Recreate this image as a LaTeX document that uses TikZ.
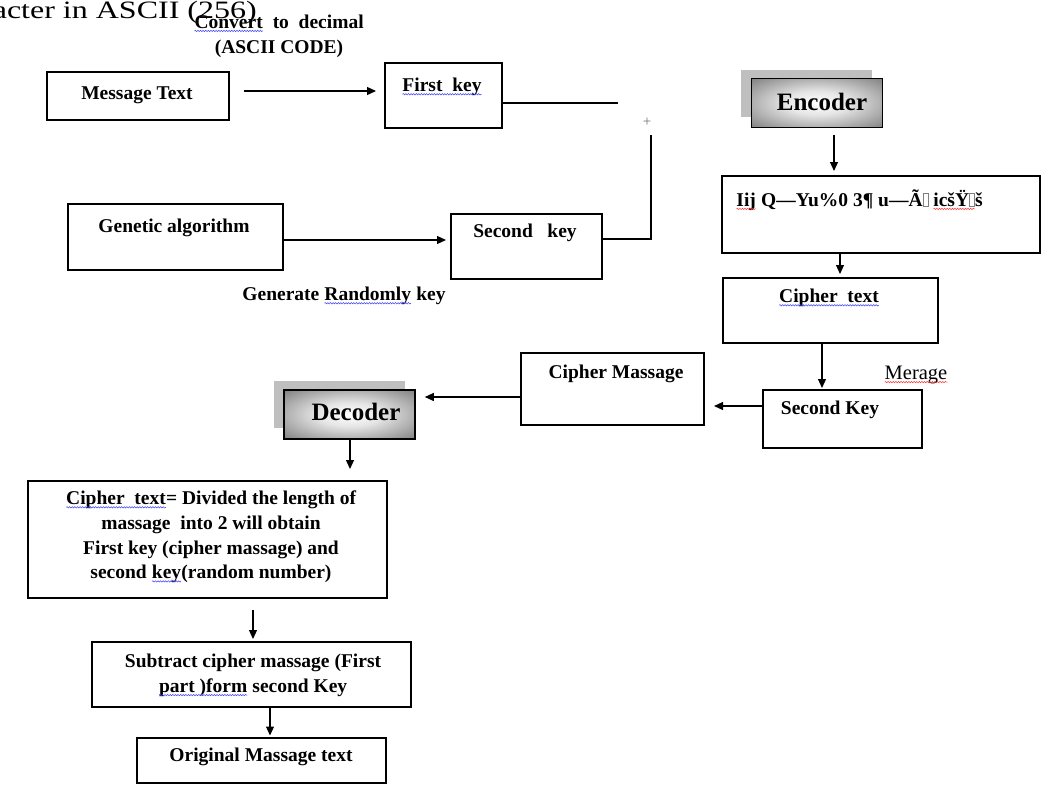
\documentclass[tikz,border=0pt]{standalone}
\usepackage{fontspec}
\setmainfont{Liberation Serif}
\usetikzlibrary{arrows.meta,calc,decorations.pathmorphing}
\colorlet{shdark}{black!74}
\colorlet{shmid}{white!90!black}
\pgfdeclareradialshading{encsh}{\pgfpoint{0bp}{0bp}}{color(0bp)=(white);color(12bp)=(shmid);color(50bp)=(shdark)}
\newcommand\sqline[2]{\tikz[baseline=(W.base)]{\node[inner sep=0pt,outer sep=0pt,anchor=base](W) at (0pt,0pt){#2};\draw[#1,line width=0.5pt,decorate,decoration={snake,amplitude=0.7pt,segment length=2.6pt}]([yshift=-2.6pt]W.base west)--([yshift=-2.6pt]W.base east);}}
\newcommand\sqb[1]{\sqline{blue!75}{#1}}
\newcommand\sqr[1]{\sqline{red!80}{#1}}
\newcommand\nobox{{\color{gray}\setlength\fboxsep{0pt}\setlength\fboxrule{0.6pt}\fbox{\rule{0pt}{13pt}\hspace{4.5pt}}}}
\begin{document}
\begin{tikzpicture}[x=1pt,y=-1pt,
  box/.style n args={2}{draw,line width=2pt,inner sep=0pt,minimum width=#1,minimum height=#2},
  lbl/.style={font=\bfseries\fontsize{19.5}{24.7}\selectfont,inner sep=0pt},
  big/.style={font=\bfseries\fontsize{25}{30}\selectfont,inner sep=0pt},
  arr/.style={line width=1.2pt,-{Triangle[length=9pt,width=8pt]}},
  ln/.style={line width=1.2pt},
  shadowbox/.style={fill=gray!50,inner sep=0pt,minimum width=131pt,minimum height=47pt},
  shadedbox/.style={draw,line width=1.6pt,shading=encsh,inner sep=0pt,minimum width=131pt,minimum height=49pt}]
\useasboundingbox (0,0) rectangle (1042,787);

% truncated heading
\node[font=\fontsize{25}{28}\selectfont,inner sep=0pt,anchor=base east,xscale=1.28] (head) at (257,18.3) {acter in ASCII (256)};

% boxes
\node[box={182pt}{48pt}] (msg) at (138,96) {};
\node[box={117pt}{65pt}] (fk) at (443.5,95.5) {};
\node[box={215pt}{66pt}] (ga) at (175.5,237) {};
\node[box={151pt}{65pt}] (sk) at (526.5,246.5) {};
\node[shadowbox] (encs) at (806,93) {};
\node[shadedbox] (enc) at (817,103) {};
\node[box={318pt}{77pt}] (garb) at (881,214.5) {};
\node[box={215pt}{65pt}] (ct) at (830.5,310.5) {};
\node[box={159pt}{58pt}] (sk2) at (842.5,419) {};
\node[box={183pt}{72pt}] (cm) at (612.5,389) {};
\node[shadowbox] (decs) at (339.5,404) {};
\node[shadedbox] (dec) at (349.5,414.5) {};
\node[box={359pt}{117pt}] (bigbox) at (207.5,539.5) {};
\node[box={319pt}{65pt}] (sub) at (251.5,674.5) {};
\node[box={249pt}{45pt}] (orig) at (261.5,760.5) {};

% texts
\node[lbl,align=center] (conv) at (279,36) {\sqb{Convert}\ \ to\ \ decimal\\(ASCII CODE)};
\node[lbl] (msgt) at (137,95) {Message Text};
\node[lbl] (fkt) at (442,87) {\sqb{First\ \ key}};
\node[lbl] (gat) at (174,228) {Genetic algorithm};
\node[lbl] (skt) at (525,233) {Second\ \ \ key};
\node[lbl] (gen) at (344,296) {Generate \sqb{Randomly} key};
\node[font=\fontsize{15}{15}\selectfont,text=black!55,inner sep=0pt] (plus) at (647,122) {+};
\node[big] (enct) at (822,102) {Encoder};
\node[lbl,anchor=west] (garbt) at (736,200) {\sqr{Iij} Q—Yu\%0 3¶ u—Ã\nobox{} \sqr{icšŸ\nobox}š};
\node[lbl] (ctt) at (829,298) {\sqb{Cipher\ \ text}};
\node[font=\fontsize{20.5}{22}\selectfont,inner sep=0pt] (mer) at (916,375) {\sqr{Merage}};
\node[lbl] (sk2t) at (830,410) {Second Key};
\node[lbl] (cmt) at (616,374) {Cipher Massage};
\node[big] (dect) at (356,412) {Decoder};
\node[lbl,align=center] (bigt) at (211,537) {\sqb{Cipher\ \ text}= Divided the length of\\massage\ \ into 2 will obtain\\First key (cipher massage) and\\second \sqb{key}(random number)};
\node[lbl,align=center] (subt) at (253,675.5) {Subtract cipher massage (First\\\sqb{part )form} second Key};
\node[lbl] (origt) at (261,757) {Original Massage text};

% connectors
\coordinate (join) at (651,135);
\draw[arr] ($(msg.east)+(14,-5)$) -- ($(fk.west)+(-8,-4.5)$);
\draw[ln] ($(fk.east)+(0,7.5)$) -- ($(fk.east)+(115,7.5)$);
\draw[ln] ($(sk.east)+(0,-7.5)$) -| (join);
\draw[arr] ($(ga.east)+(0,3)$) -- ($(sk.west)+(-4,-6.5)$);
\draw[arr] ($(enc.south)+(17,7)$) -- ($(garb.north)+(-47,-4)$);
\draw[arr] ($(garb.south)+(-41,0)$) -- ($(ct.north)+(9.5,-3)$);
\draw[arr] ($(ct.south)+(-8.5,0)$) -- ($(sk2.north)+(-20.5,-1)$);
\draw[arr] ($(sk2.west)+(0,-13)$) -- ($(cm.east)+(9,17)$);
\draw[arr] ($(cm.west)+(0,8)$) -- ($(dec.east)+(9,-17.5)$);
\draw[arr] ($(dec.south)+(0.5,0)$) -- ($(bigbox.north)+(142.5,-11)$);
\draw[arr] ($(bigbox.south)+(45.5,11)$) -- ($(sub.north)+(1.5,-2)$);
\draw[arr] ($(sub.south)+(18.5,0)$) -- ($(orig.north)+(8.5,-1.5)$);
\end{tikzpicture}
\end{document}
